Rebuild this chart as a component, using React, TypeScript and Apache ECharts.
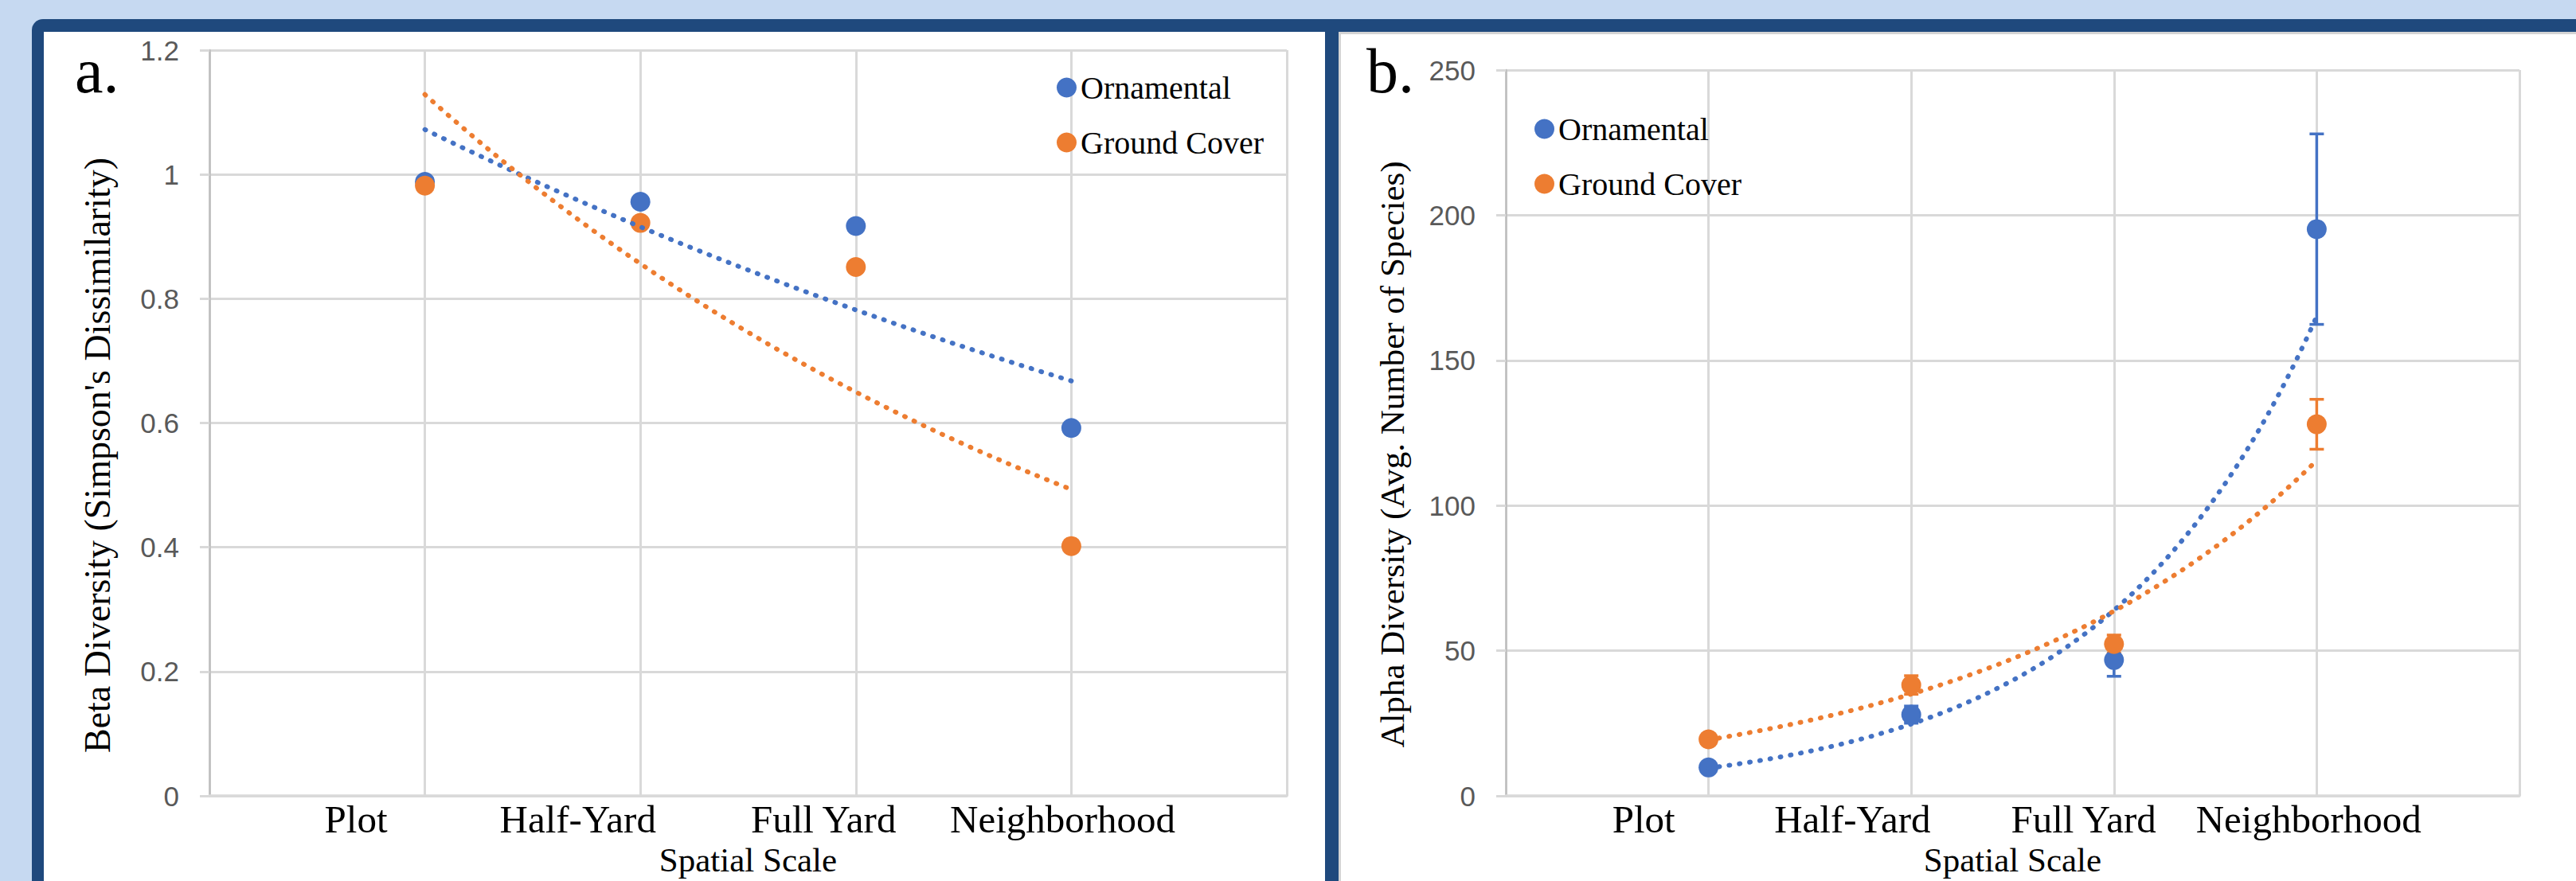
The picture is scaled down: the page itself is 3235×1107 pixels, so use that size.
import React, { useEffect, useRef } from "react";
import * as echarts from "echarts";

// ---- data ----
const categories = ["Plot", "Half-Yard", "Full Yard", "Neighborhood"];
const scaleX = [1, 2, 3, 4];
const labelPos = [0.68, 1.71, 2.85, 3.96];
const legendNames = ["Ornamental", "Ground Cover"];

const betaOrnamental = [0.988, 0.956, 0.917, 0.592];
const betaGround = [0.982, 0.922, 0.851, 0.402];

const alphaOrnamental = [9.8, 28.0, 46.8, 195.2];
const alphaGround = [19.5, 38.2, 52.3, 128.0];
const alphaOrnamentalErr = [0.8, 2.95, 5.6, 32.8];
const alphaGroundErr = [0.8, 3.2, 3.1, 8.6];

const betaAxis = { min: 0, max: 1.2, interval: 0.2 };
const alphaAxis = { min: 0, max: 250, interval: 50 };
const xAxisRange = { min: 0, max: 5, interval: 1 };

const BLUE = "#4472C4";
const ORANGE = "#ED7D31";
const GRID = "#D9D9D9";
const SERIF = "'Liberation Serif', 'Times New Roman', serif";
const SANS = "'Liberation Sans', Arial, sans-serif";

// Excel-style exponential trendline (least squares on ln y)
function expTrend(xs: number[], ys: number[]) {
  const n = xs.length;
  const ly = ys.map((v) => Math.log(v));
  const mx = xs.reduce((a, b) => a + b, 0) / n;
  const my = ly.reduce((a, b) => a + b, 0) / n;
  let sxy = 0;
  let sxx = 0;
  for (let i = 0; i < n; i++) {
    sxy += (xs[i] - mx) * (ly[i] - my);
    sxx += (xs[i] - mx) * (xs[i] - mx);
  }
  const b = sxy / sxx;
  const a = Math.exp(my - b * mx);
  const pts: number[][] = [];
  const steps = 60;
  for (let i = 0; i <= steps; i++) {
    const x = xs[0] + ((xs[n - 1] - xs[0]) * i) / steps;
    pts.push([x, a * Math.exp(b * x)]);
  }
  return pts;
}

function xAxisCfg(gridIndex: number) {
  return {
    type: "value",
    gridIndex,
    ...xAxisRange,
    axisLine: { show: true, onZero: true, lineStyle: { color: GRID, width: 3.5 } },
    axisTick: { show: false },
    splitLine: { show: true, lineStyle: { color: GRID, width: 3 } },
    axisLabel: {
      customValues: labelPos,
      formatter: (v: number) => {
        const i = labelPos.findIndex((p) => Math.abs(p - v) < 1e-6);
        return i >= 0 ? categories[i] : "";
      },
      margin: 5,
      fontFamily: SERIF,
      fontSize: 49,
      color: "#000",
    },
    name: "Spatial Scale",
    nameLocation: "middle",
    nameGap: 56,
    nameTextStyle: { fontFamily: SERIF, fontSize: 43, color: "#000" },
  };
}

function yAxisCfg(gridIndex: number, range: { min: number; max: number; interval: number }) {
  return {
    type: "value",
    gridIndex,
    ...range,
    axisLine: { show: true, lineStyle: { color: "#BFBFBF", width: 2.5 } },
    axisTick: { show: true, inside: false, length: 12, lineStyle: { color: GRID, width: 3 } },
    splitLine: { show: true, lineStyle: { color: GRID, width: 3 } },
    axisLabel: { margin: 38, fontFamily: SANS, fontSize: 35, color: "#595959" },
  };
}

function scatter(name: string, xi: number, vals: number[], color: string) {
  return {
    name,
    type: "scatter",
    xAxisIndex: xi,
    yAxisIndex: xi,
    symbol: "circle",
    symbolSize: 25,
    itemStyle: { color, opacity: 1 },
    z: 4,
    data: scaleX.map((x, i) => [x, vals[i]]),
  };
}

function trendSeries(xi: number, vals: number[], color: string) {
  return {
    type: "line",
    xAxisIndex: xi,
    yAxisIndex: xi,
    showSymbol: false,
    symbol: "none",
    silent: true,
    z: 5,
    lineStyle: { color, width: 6, type: [1, 12], cap: "round" },
    data: expTrend(scaleX, vals),
  };
}

function errorSeries(xi: number, vals: number[], errs: number[], color: string) {
  return {
    type: "custom",
    xAxisIndex: xi,
    yAxisIndex: xi,
    silent: true,
    z: 3,
    data: scaleX.map((x, i) => [x, vals[i], errs[i]]),
    renderItem: (_params: any, api: any) => {
      const x = api.value(0);
      const y = api.value(1);
      const e = api.value(2);
      const top = api.coord([x, y + e]);
      const bot = api.coord([x, y - e]);
      const hw = 9;
      const st = { stroke: color, lineWidth: 3.5 };
      return {
        type: "group",
        children: [
          { type: "line", shape: { x1: top[0], y1: top[1], x2: bot[0], y2: bot[1] }, style: st },
          { type: "line", shape: { x1: top[0] - hw, y1: top[1], x2: top[0] + hw, y2: top[1] }, style: st },
          { type: "line", shape: { x1: bot[0] - hw, y1: bot[1], x2: bot[0] + hw, y2: bot[1] }, style: st },
        ],
      };
    },
  };
}

function legendCfg(left: number, top: number) {
  return {
    orient: "vertical",
    left,
    top,
    itemWidth: 25,
    itemHeight: 25,
    itemGap: 29,
    selectedMode: false,
    textStyle: { fontFamily: SERIF, fontSize: 40, color: "#000", lineHeight: 40 },
    data: [
      { name: legendNames[0], icon: "circle", itemStyle: { color: BLUE, opacity: 1 } },
      { name: legendNames[1], icon: "circle", itemStyle: { color: ORANGE, opacity: 1 } },
    ],
  };
}

function textEl(text: string, x: number, y: number, size: number, rotation = 0) {
  return {
    type: "text",
    x,
    y,
    rotation,
    z: 20,
    style: {
      text,
      font: `${size}px ${SERIF}`,
      fill: "#000",
      align: rotation ? "center" : "left",
      textAlign: rotation ? "center" : "left",
      verticalAlign: "middle",
      textVerticalAlign: "middle",
    },
  };
}

export default function App() {
  const ref = useRef<HTMLDivElement>(null);
  useEffect(() => {
    if (!ref.current) return;
    const chart = echarts.init(ref.current, undefined, { renderer: "svg" });
    chart.setOption({
      animation: false,
      backgroundColor: "#C6D9F1",
      grid: [
        { left: 263, top: 63, width: 1353, height: 938 },
        { left: 1891, top: 88, width: 1273, height: 917 },
      ],
      xAxis: [xAxisCfg(0), xAxisCfg(1)],
      yAxis: [yAxisCfg(0, betaAxis), yAxisCfg(1, alphaAxis)],
      legend: [legendCfg(1322, 85), legendCfg(1922, 137)],
      graphic: {
        elements: [
          { type: "rect", z: -20, shape: { x: 40, y: 24, width: 3400, height: 1300, r: [14, 0, 0, 0] }, style: { fill: "#1F497D" } },
          { type: "rect", z: -19, shape: { x: 55, y: 40, width: 1609, height: 1300 }, style: { fill: "#FFFFFF" } },
          { type: "rect", z: -19, shape: { x: 1681, y: 40, width: 1700, height: 1300 }, style: { fill: "#D4D4D4" } },
          { type: "rect", z: -18, shape: { x: 1684, y: 43, width: 1700, height: 1300 }, style: { fill: "#FFFFFF" } },
          textEl("a.", 94, 89, 80),
          textEl("b.", 1716, 89, 80),
          textEl("Beta Diversity (Simpson's Dissimilarity)", 122, 572, 46, Math.PI / 2),
          textEl("Alpha Diversity (Avg. Number of Species)", 1748, 571, 43, Math.PI / 2),
        ],
      },
      series: [
        scatter(legendNames[0], 0, betaOrnamental, BLUE),
        scatter(legendNames[1], 0, betaGround, ORANGE),
        trendSeries(0, betaOrnamental, BLUE),
        trendSeries(0, betaGround, ORANGE),
        errorSeries(1, alphaOrnamental, alphaOrnamentalErr, BLUE),
        errorSeries(1, alphaGround, alphaGroundErr, ORANGE),
        scatter(legendNames[0], 1, alphaOrnamental, BLUE),
        scatter(legendNames[1], 1, alphaGround, ORANGE),
        trendSeries(1, alphaOrnamental, BLUE),
        trendSeries(1, alphaGround, ORANGE),
      ],
    });
    return () => chart.dispose();
  }, []);
  return (
    <div
      ref={ref}
      style={{ position: "absolute", left: 0, top: 0, width: 3235, height: 1107 }}
    />
  );
}
